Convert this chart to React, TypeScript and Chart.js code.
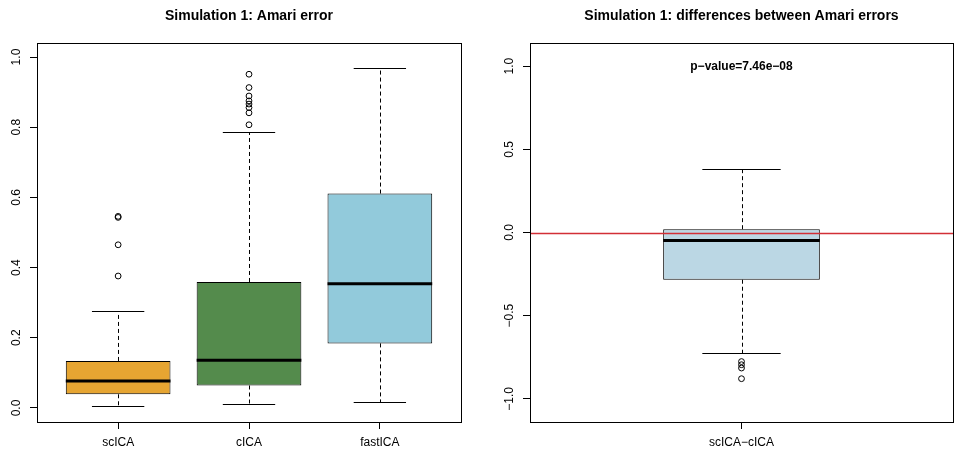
import { useEffect, useRef } from "react";
import { Chart, registerables } from "chart.js";

Chart.register(...registerables);

const FONT = '"Liberation Sans", Arial, Helvetica, sans-serif';

// Simulation 1: Amari error for each method (five-number summaries + outliers)
const methods = ["scICA", "cICA", "fastICA"];
const lowerWhisker = [0.006, 0.011, 0.016];
const lowerQuartile = [0.039, 0.064, 0.184];
const medians = [0.077, 0.136, 0.354];
const upperQuartile = [0.134, 0.359, 0.611];
const upperWhisker = [0.276, 0.787, 0.969];
const scICAOutliers = [0.376, 0.465, 0.543, 0.546];
const cICAOutliers = [0.807, 0.841, 0.856, 0.866, 0.875, 0.889, 0.913, 0.951];
const fastICAOutliers: number[] = [];
const methodColors = ["#E6A532", "#548B4C", "#92CADB"];
const errorTicks = [0, 0.2, 0.4, 0.6, 0.8, 1.0];
const errorLimits = [0, 1];

// Simulation 1: paired differences of Amari errors
const diffLabels = ["scICA\u2212cICA"];
const diffLowerWhisker = [-0.724];
const diffLowerQuartile = [-0.284];
const diffMedian = [-0.048];
const diffUpperQuartile = [0.02];
const diffUpperWhisker = [0.383];
const diffOutliers = [-0.776, -0.795, -0.815, -0.879];
const diffColors = ["#BBD7E4"];
const diffTicks = [-1, -0.5, 0, 0.5, 1];
const diffLimits = [-1.055, 1.055];
const pValueText = "p\u2212value=7.46e\u221208";

type PanelSpec = {
  title: string;
  labels: string[];
  low: number[];
  q1: number[];
  med: number[];
  q3: number[];
  high: number[];
  outliers: number[][];
  colors: string[];
  ticks: number[];
  yLimits: number[];
  boxWidth: number;
  yAxisWidth: number;
  padRight: number;
  refLine?: number;
  note?: string;
};

// R-style 4% range extension on both sides
const expand = ([a, b]: number[]) => {
  const d = (b - a) * 0.04;
  return [a - d, b + d];
};

const fmtTick = (v: number) => {
  const s = Math.abs(v).toFixed(1);
  return v < 0 ? "\u2212" + s : s;
};

function buildChart(canvas: HTMLCanvasElement, spec: PanelSpec) {
  const n = spec.labels.length;
  const positions = spec.labels.map((_, i) => i + 1);
  const [xMin, xMax] = expand([0.5, n + 0.5]);
  const [yMin, yMax] = expand(spec.yLimits);
  const spacing = n > 1 ? 1 : xMax - xMin;

  const boxData = positions.map((x, i) => ({ x, y: [spec.q1[i], spec.q3[i]] }));
  const outlierData = spec.outliers.flatMap((vals, i) =>
    vals.map((v) => ({ x: positions[i], y: v }))
  );

  const hline = (ctx: CanvasRenderingContext2D, x1: number, x2: number, y: number) => {
    ctx.beginPath();
    ctx.moveTo(x1, y);
    ctx.lineTo(x2, y);
    ctx.stroke();
  };
  const vline = (ctx: CanvasRenderingContext2D, x: number, y1: number, y2: number) => {
    ctx.beginPath();
    ctx.moveTo(x, y1);
    ctx.lineTo(x, y2);
    ctx.stroke();
  };

  const boxplotPlugin = {
    id: "rBoxplot",
    // dashed whiskers and staples, underneath the boxes
    beforeDatasetsDraw(chart: any) {
      const ctx: CanvasRenderingContext2D = chart.ctx;
      const ys = chart.scales.y;
      const bars = chart.getDatasetMeta(0).data;
      ctx.save();
      ctx.strokeStyle = "#000";
      ctx.lineWidth = 1;
      bars.forEach((bar: any, i: number) => {
        const cx = Math.round(bar.x) + 0.5;
        const half = bar.width / 4;
        const pLow = Math.round(ys.getPixelForValue(spec.low[i])) + 0.5;
        const pHigh = Math.round(ys.getPixelForValue(spec.high[i])) + 0.5;
        const pQ1 = ys.getPixelForValue(spec.q1[i]);
        const pQ3 = ys.getPixelForValue(spec.q3[i]);
        ctx.setLineDash([4, 3]);
        vline(ctx, cx, pQ3, pHigh);
        vline(ctx, cx, pQ1, pLow);
        ctx.setLineDash([]);
        hline(ctx, bar.x - half, bar.x + half, pHigh);
        hline(ctx, bar.x - half, bar.x + half, pLow);
      });
      ctx.restore();
    },
    // medians, reference line, frame, rotated y labels, note and title
    afterDatasetsDraw(chart: any) {
      const ctx: CanvasRenderingContext2D = chart.ctx;
      const ys = chart.scales.y;
      const area = chart.chartArea;
      const bars = chart.getDatasetMeta(0).data;
      ctx.save();

      ctx.strokeStyle = "#000";
      ctx.lineWidth = 3;
      ctx.lineCap = "butt";
      bars.forEach((bar: any, i: number) => {
        const py = ys.getPixelForValue(spec.med[i]);
        hline(ctx, bar.x - bar.width / 2, bar.x + bar.width / 2, py);
      });

      if (spec.refLine !== undefined) {
        ctx.strokeStyle = "#D22F36";
        ctx.lineWidth = 1.3;
        const py = Math.round(ys.getPixelForValue(spec.refLine)) + 0.5;
        hline(ctx, area.left, area.right, py);
      }

      ctx.strokeStyle = "#000";
      ctx.lineWidth = 1;
      ctx.strokeRect(
        Math.round(area.left) + 0.5,
        Math.round(area.top) + 0.5,
        Math.round(area.right - area.left),
        Math.round(area.bottom - area.top)
      );

      ctx.fillStyle = "#000";
      ctx.font = `12px ${FONT}`;
      ctx.textAlign = "center";
      ctx.textBaseline = "alphabetic";
      ys.ticks.forEach((t: any) => {
        const py = ys.getPixelForValue(t.value);
        ctx.save();
        ctx.translate(area.left - 17.3, py);
        ctx.rotate(-Math.PI / 2);
        ctx.fillText(fmtTick(t.value), 0, 0);
        ctx.restore();
      });

      const cx = (area.left + area.right) / 2;
      if (spec.note) {
        ctx.font = `bold 12px ${FONT}`;
        ctx.fillText(spec.note, cx, ys.getPixelForValue(1) + 4.3);
      }
      ctx.font = `bold 14px ${FONT}`;
      ctx.fillText(spec.title, cx, 20);
      ctx.restore();
    },
  };

  const axisGrid = {
    display: true,
    drawOnChartArea: false,
    drawTicks: true,
    tickLength: 7,
    color: "#000",
    lineWidth: 1,
    offset: false,
  };

  return new Chart(canvas, {
    type: "bar",
    data: {
      datasets: [
        {
          type: "bar",
          data: boxData as any,
          backgroundColor: spec.colors,
          borderColor: "#000",
          borderWidth: 1,
          borderSkipped: false,
          categoryPercentage: spec.boxWidth / spacing,
          barPercentage: 1,
          order: 2,
        },
        {
          type: "scatter",
          data: outlierData,
          pointStyle: "circle",
          pointRadius: 2.9,
          pointBorderWidth: 1,
          pointBorderColor: "#000",
          pointBackgroundColor: "rgba(0,0,0,0)",
          borderColor: "#000",
          backgroundColor: "rgba(0,0,0,0)",
          showLine: false,
          order: 1,
        } as any,
      ],
    },
    options: {
      responsive: false,
      animation: false,
      devicePixelRatio: 1,
      layout: {
        autoPadding: false,
        padding: { left: 0, right: spec.padRight, top: 43, bottom: 0 },
      },
      plugins: {
        legend: { display: false },
        tooltip: { enabled: false },
        title: { display: false },
      },
      scales: {
        x: {
          type: "linear",
          min: xMin,
          max: xMax,
          offset: false,
          afterBuildTicks: (s: any) => {
            s.ticks = positions.map((v) => ({ value: v }));
          },
          afterFit: (s: any) => {
            s.height = 32;
            s.paddingLeft = 0;
            s.paddingRight = 0;
          },
          ticks: {
            callback: (_v: any, i: number) => spec.labels[i] ?? "",
            font: { family: FONT, size: 12 },
            color: "#000",
            padding: 6,
            autoSkip: false,
            maxRotation: 0,
            minRotation: 0,
          },
          grid: axisGrid,
          border: { display: false },
        },
        y: {
          type: "linear",
          min: yMin,
          max: yMax,
          afterBuildTicks: (s: any) => {
            s.ticks = spec.ticks.map((v) => ({ value: v }));
          },
          afterFit: (s: any) => {
            s.width = spec.yAxisWidth;
          },
          ticks: { display: false },
          grid: axisGrid,
          border: { display: false },
        },
      },
    } as any,
    plugins: [boxplotPlugin],
  });
}

const errorPanel: PanelSpec = {
  title: "Simulation 1: Amari error",
  labels: methods,
  low: lowerWhisker,
  q1: lowerQuartile,
  med: medians,
  q3: upperQuartile,
  high: upperWhisker,
  outliers: [scICAOutliers, cICAOutliers, fastICAOutliers],
  colors: methodColors,
  ticks: errorTicks,
  yLimits: errorLimits,
  boxWidth: 0.8,
  yAxisWidth: 37,
  padRight: 16,
};

const diffPanel: PanelSpec = {
  title: "Simulation 1: differences between Amari errors",
  labels: diffLabels,
  low: diffLowerWhisker,
  q1: diffLowerQuartile,
  med: diffMedian,
  q3: diffUpperQuartile,
  high: diffUpperWhisker,
  outliers: [diffOutliers],
  colors: diffColors,
  ticks: diffTicks,
  yLimits: diffLimits,
  boxWidth: 0.4,
  yAxisWidth: 53,
  padRight: 1,
  refLine: 0,
  note: pValueText,
};

export default function App() {
  const leftRef = useRef<HTMLCanvasElement>(null);
  const rightRef = useRef<HTMLCanvasElement>(null);

  useEffect(() => {
    const charts = [
      buildChart(leftRef.current!, errorPanel),
      buildChart(rightRef.current!, diffPanel),
    ];
    return () => charts.forEach((c) => c.destroy());
  }, []);

  return (
    <div
      style={{
        position: "absolute",
        left: 0,
        top: 0,
        width: 954,
        height: 454,
        background: "#fff",
      }}
    >
      <canvas
        ref={leftRef}
        width={477}
        height={454}
        style={{ position: "absolute", left: 0, top: 0 }}
      />
      <canvas
        ref={rightRef}
        width={477}
        height={454}
        style={{ position: "absolute", left: 477, top: 0 }}
      />
    </div>
  );
}
